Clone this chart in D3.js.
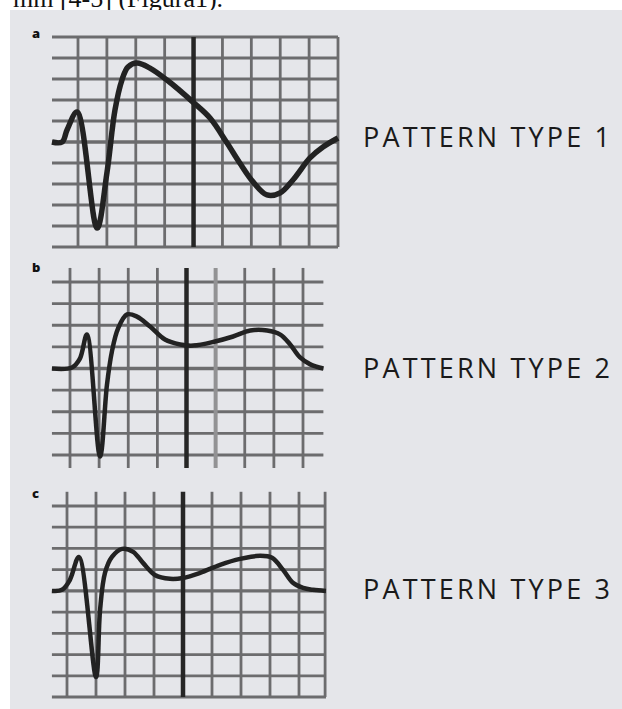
<!DOCTYPE html>
<html>
<head>
<meta charset="utf-8">
<script src="https://cdn.jsdelivr.net/npm/d3@7"></script>
<style>
    html, body { margin: 0; padding: 0; background: #fff; }
    svg { display: block; }
</style>
</head>
<body>
<div id="chart"></div>
<script>
/* data */

var captionText = 'mm [4-5] (Figura1).';
var panelLetters = ['a', 'b', 'c'];
var patternLabels = ['PATTERN TYPE 1', 'PATTERN TYPE 2', 'PATTERN TYPE 3'];

// grid lines, in big boxes (0 row = isoelectric line)
var gridColumns1 = [0, 1, 2, 3, 4, 5, 6, 7, 8, 9];
var gridRows1 = [-5, -4, -3, -2, -1, 0, 1, 2, 3, 4, 5];
var gridColumns2 = [0, 1, 2, 3, 4, 5, 6, 7, 8];
var gridRows2 = [-4, -3, -2, -1, 0, 1, 2, 3, 4];
var gridColumns3 = [0, 1, 2, 3, 4, 5, 6, 7, 8, 8.9];
var gridRows3 = [-5, -4, -3, -2, -1, 0, 1, 2, 3, 4];
var thickColumn = 4;
var fadedColumns = [[], [5], []];

// traces, [box x, box y]
var pattern1 = [
    [-0.9, 0], [-0.55, 0], [-0.38, 0.57], [-0.03, 1.43], [0.66, -4.1],
    [1.0, -1.48], [1.28, 1.52], [1.52, 2.95], [1.73, 3.57], [2.04, 3.76],
    [2.49, 3.52], [3.08, 2.95], [3.98, 1.9], [4.57, 1.14], [5.16, -0.05],
    [5.6, -1.0], [6.06, -1.9], [6.54, -2.52], [6.99, -2.43], [7.44, -1.81],
    [8.03, -0.76], [8.48, -0.24], [9, 0.19]
];
var pattern2 = [
    [-0.62, 0], [0.07, 0.05], [0.34, 0.46], [0.58, 1.57], [1.03, -4.07],
    [1.27, -0.74], [1.44, 0.79], [1.65, 1.85], [1.96, 2.5], [2.3, 2.4],
    [2.75, 1.94], [3.26, 1.34], [3.78, 1.11], [4.23, 1.06], [4.98, 1.25],
    [5.6, 1.48], [6.19, 1.76], [6.77, 1.76], [7.22, 1.57], [7.56, 1.11],
    [7.9, 0.51], [8.25, 0.19], [8.7, 0]
];
var pattern3 = [
    [-0.52, 0], [-0.17, 0.05], [0.1, 0.52], [0.41, 1.6], [1.0, -4.06],
    [1.14, -0.9], [1.31, 0.85], [1.55, 1.6], [1.9, 1.98], [2.28, 1.84],
    [2.62, 1.32], [3.03, 0.75], [3.55, 0.57], [4.0, 0.61], [4.59, 0.85],
    [5.28, 1.23], [5.97, 1.51], [6.66, 1.65], [7.07, 1.56], [7.45, 0.99],
    [7.79, 0.38], [8.14, 0.14], [8.48, 0.05], [8.93, 0]
];

(function ecgPatternsDefinition() {
    'use strict';

    var width = 622;
    var height = 709;

    /* panels layout */

    var panels = [
        {
            columns: gridColumns1, rows: gridRows1, trace: pattern1,
            xDomain: [0, 9], xRange: [78, 338], yDomain: [-5, 5], yRange: [247, 37],
            hExtent: [-0.9, 9], vExtent: [-5, 5], letterY: 38, labelY: 147, traceWidth: 5.5
        },
        {
            columns: gridColumns2, rows: gridRows2, trace: pattern2,
            xDomain: [0, 8], xRange: [70, 303], yDomain: [-4, 4], yRange: [455, 282],
            hExtent: [-0.62, 8.7], vExtent: [-4.6, 4.65], letterY: 272, labelY: 378, traceWidth: 4.5
        },
        {
            columns: gridColumns3, rows: gridRows3, trace: pattern3,
            xDomain: [0, 8], xRange: [67, 299], yDomain: [-5, 4], yRange: [697, 506],
            hExtent: [-0.52, 8.93], vExtent: [-5, 4.67], letterY: 498, labelY: 599, traceWidth: 4.5
        }
    ];

    var svg = d3.select('#chart').append('svg')
        .attr('width', width)
        .attr('height', height)
    ;

    /* soft edges, like the scanned figure */

    svg.append('defs').append('filter')
        .attr('id', 'soft')
        .append('feGaussianBlur')
        .attr('stdDeviation', 0.7)
    ;

    /* caption, cut at the top like in the source page */

    svg.append('text')
        .attr('x', 13)
        .attr('y', 7)
        .attr('font-family', '"Liberation Serif", "DejaVu Serif", serif')
        .attr('font-size', 26)
        .attr('fill', '#111')
        .text(captionText)
    ;

    /* gray figure box */

    svg.append('rect')
        .attr('x', 10)
        .attr('y', 10)
        .attr('width', width - 10)
        .attr('height', height - 10)
        .attr('fill', '#e5e6ea')
    ;

    panels.forEach(function (p, i) {
        drawPanel(p, i);
    });

    function drawPanel(p, i) {
        var x = d3.scaleLinear().domain(p.xDomain).range(p.xRange);
        var y = d3.scaleLinear().domain(p.yDomain).range(p.yRange);

        var g = svg.append('g')
            .attr('class', 'panel-' + panelLetters[i])
        ;

        var grid = g.append('g')
            .attr('filter', 'url(#soft)')
        ;

        // --- horizontal lines
        grid.selectAll('line.row')
            .data(p.rows)
            .enter()
            .append('line')
            .attr('class', 'row')
            .attr('x1', x(p.hExtent[0]))
            .attr('x2', x(p.hExtent[1]))
            .attr('y1', function (d) { return y(d); })
            .attr('y2', function (d) { return y(d); })
            .attr('stroke', '#6c6c6e')
            .attr('stroke-width', function (d) { return d === 0 ? 3.4 : 2.8; })
        ;

        // --- vertical lines
        grid.selectAll('line.col')
            .data(p.columns)
            .enter()
            .append('line')
            .attr('class', 'col')
            .attr('x1', function (d) { return x(d); })
            .attr('x2', function (d) { return x(d); })
            .attr('y1', y(p.vExtent[0]))
            .attr('y2', y(p.vExtent[1]))
            .attr('stroke', function (d) {
                if (d === thickColumn) { return '#262626'; }
                if (fadedColumns[i].indexOf(d) > -1) { return '#929294'; }
                return '#6c6c6e';
            })
            .attr('stroke-width', function (d) {
                if (d === thickColumn) { return 4.5; }
                if (fadedColumns[i].indexOf(d) > -1) { return 4; }
                return 2.8;
            })
        ;

        // --- trace
        var line = d3.line()
            .x(function (d) { return x(d[0]); })
            .y(function (d) { return y(d[1]); })
            .curve(d3.curveCatmullRom.alpha(0.5))
        ;

        g.append('path')
            .datum(p.trace)
            .attr('d', line)
            .attr('fill', 'none')
            .attr('stroke', '#222')
            .attr('stroke-width', p.traceWidth)
            .attr('stroke-linejoin', 'round')
            .attr('stroke-linecap', 'butt')
            .attr('filter', 'url(#soft)')
        ;

        // --- panel letter
        g.append('text')
            .attr('x', 32)
            .attr('y', p.letterY)
            .attr('font-family', '"Open Sans", "DejaVu Sans", sans-serif')
            .attr('font-weight', 800)
            .attr('font-size', 13)
            .attr('fill', '#111')
            .text(panelLetters[i])
        ;

        // --- pattern label
        g.append('text')
            .attr('x', 363)
            .attr('y', p.labelY)
            .attr('font-family', '"Open Sans", "Noto Sans", sans-serif')
            .attr('font-size', 27)
            .attr('fill', '#1a1a1a')
            .attr('textLength', 247)
            .attr('lengthAdjust', 'spacing')
            .text(patternLabels[i])
        ;
    }
})();
</script>
</body>
</html>
